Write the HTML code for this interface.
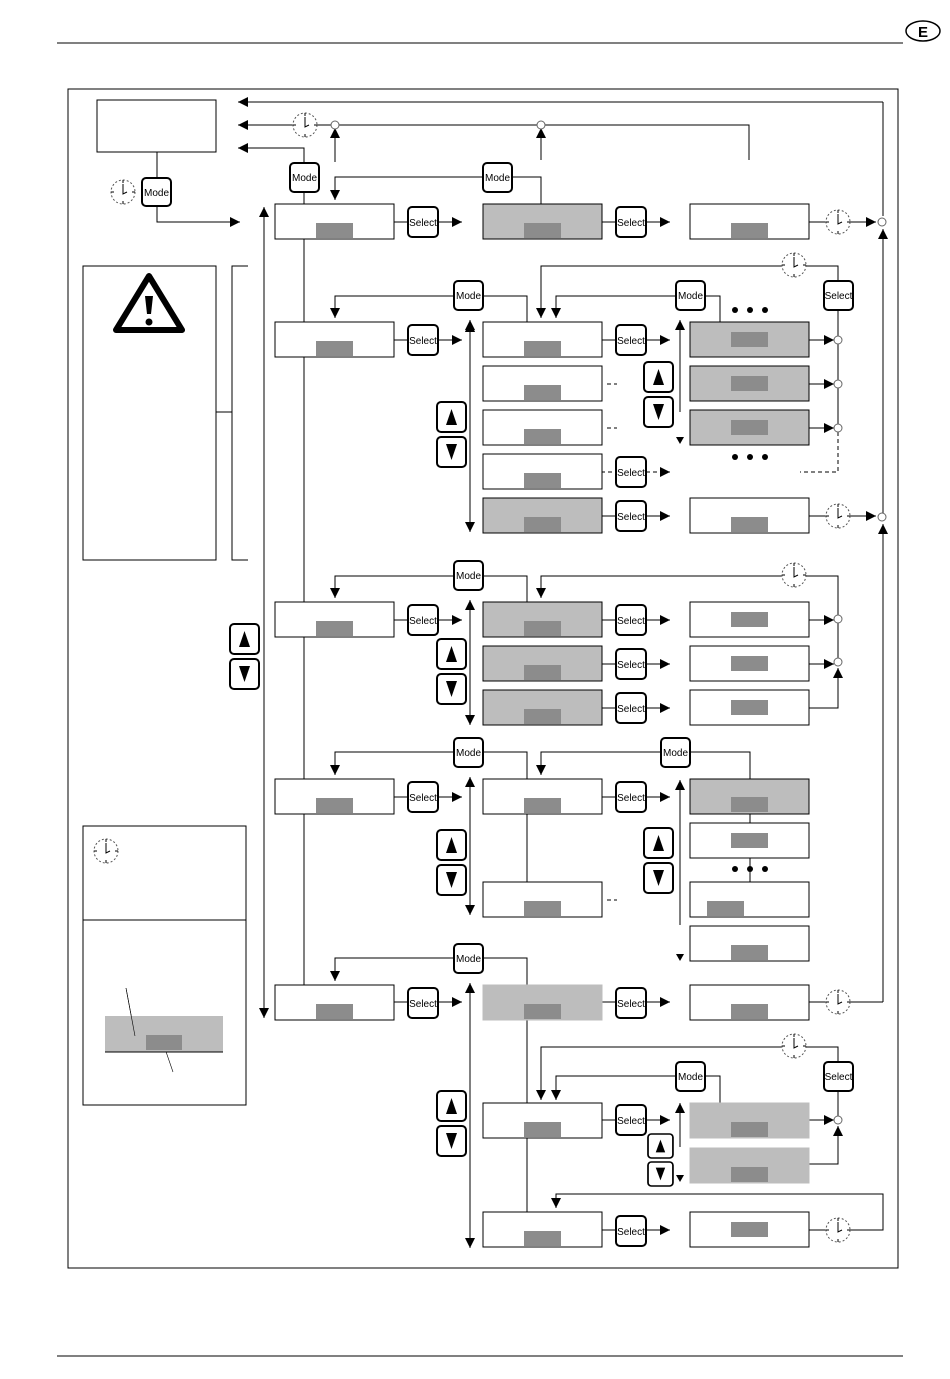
<!DOCTYPE html>
<html><head><meta charset="utf-8"><style>
html,body{margin:0;padding:0;background:#fff}
svg{display:block}
text{font-family:"Liberation Sans",sans-serif}
</style></head><body>
<svg width="950" height="1379" viewBox="0 0 950 1379" xmlns="http://www.w3.org/2000/svg">
<defs>
<marker id="a" markerUnits="userSpaceOnUse" markerWidth="12" markerHeight="12" refX="10" refY="5" orient="auto"><path d="M0,0 L10,5 L0,10 Z" fill="#000"/></marker>
<symbol id="clk" viewBox="-13 -13 26 26" overflow="visible"><circle r="12" fill="#fff" stroke="#555" stroke-width="1" stroke-dasharray="2,2"/><path d="M0,-12V-9M0,12V9M-12,0H-9M12,0H9" stroke="#000"/><path d="M0,-8V2L4,0" fill="none" stroke="#000"/></symbol>
<g id="up"><rect x="0" y="0" width="29" height="30" rx="4" fill="#fff" stroke="#000" stroke-width="2"/><path d="M14.5,7 L20,23 L9,23Z" fill="#000"/></g>
<g id="dn"><rect x="0" y="0" width="29" height="30" rx="4" fill="#fff" stroke="#000" stroke-width="2"/><path d="M14.5,23 L20,7 L9,7Z" fill="#000"/></g>
</defs>
<g fill="none" stroke="#000" stroke-width="1">
<line x1="57" y1="43" x2="903" y2="43"/>
<line x1="57" y1="1356" x2="903" y2="1356"/>
<ellipse cx="923" cy="31" rx="17" ry="10" stroke-width="1.5"/>
<rect x="68" y="89" width="830" height="1179"/>
<rect x="97" y="100" width="119" height="52"/>
<rect x="83" y="266" width="133" height="294"/>
<path d="M248,266H232V560H248M216,412H232"/>
<rect x="83" y="826" width="163" height="279"/>
<line x1="83" y1="920" x2="246" y2="920"/>
<!-- top connectors -->
<path d="M883,102H238" marker-end="url(#a)"/>
<path d="M749,160V125H238" marker-end="url(#a)"/>
<path d="M304,162V148H238" marker-end="url(#a)"/>
<path d="M335,162V128" marker-end="url(#a)"/>
<path d="M541,160V128" marker-end="url(#a)"/>
<path d="M157,152V178M157,206V222H240" marker-end="url(#a)"/>
<path d="M483,177H335V200" marker-end="url(#a)"/>
<path d="M512,177H541V204"/>
<path d="M304,192V204M304,239V985"/>
<path d="M264,1018V207" marker-end="url(#a)"/>
<path d="M264,215V1018" marker-end="url(#a)"/>
<path d="M883,102V216"/>
<path d="M883,1002V524" marker-end="url(#a)"/>
<path d="M883,517V229" marker-end="url(#a)"/>
<!-- row1 -->
<path d="M394,222H408M438,222H462" marker-end="url(#a)"/>
<path d="M601,222H616M646,222H670" marker-end="url(#a)"/>
<path d="M809,222H826M850,222H876" marker-end="url(#a)"/>
<!-- row2 -->
<path d="M454,296H335V318" marker-end="url(#a)"/>
<path d="M483,296H527V322"/>
<path d="M394,340H408M438,340H462" marker-end="url(#a)"/>
<path d="M470,330V322" marker-end="url(#a)"/><path d="M470,322V532" marker-end="url(#a)"/>
<path d="M470,330V322" marker-end="url(#a)"/>
<path d="M470,520V320" marker-end="url(#a)"/>
<path d="M601,340H616M646,340H670" marker-end="url(#a)"/>
<path d="M607,384H617M607,428H617" stroke-dasharray="4,3"/>
<path d="M601,472H616M646,472H670" stroke-dasharray="4,3" marker-end="url(#a)"/>
<path d="M601,516H616M646,516H670" marker-end="url(#a)"/>
<path d="M680,412V320" marker-end="url(#a)"/>
<path d="M676,296H556V318" marker-end="url(#a)"/>
<path d="M705,296H720V322"/>
<path d="M838,281V266H541V318" marker-end="url(#a)"/>
<path d="M838,310V424"/>
<path d="M838,432V472H800" stroke-dasharray="4,3"/>
<path d="M809,340H834" marker-end="url(#a)"/>
<path d="M809,384H834" marker-end="url(#a)"/>
<path d="M809,428H834" marker-end="url(#a)"/>
<path d="M809,516H826M850,516H876" marker-end="url(#a)"/>
<!-- row3 -->
<path d="M454,576H335V598" marker-end="url(#a)"/>
<path d="M483,576H527V602"/>
<path d="M394,620H408M438,620H462" marker-end="url(#a)"/>
<path d="M470,700V600" marker-end="url(#a)"/><path d="M470,610V725" marker-end="url(#a)"/>
<path d="M601,620H616M646,620H670" marker-end="url(#a)"/>
<path d="M601,664H616M646,664H670" marker-end="url(#a)"/>
<path d="M601,708H616M646,708H670" marker-end="url(#a)"/>
<path d="M838,615V576H541V598" marker-end="url(#a)"/>
<path d="M838,623V658"/>
<path d="M809,620H834" marker-end="url(#a)"/>
<path d="M809,664H834" marker-end="url(#a)"/>
<path d="M809,708H838V668" marker-end="url(#a)"/>
<!-- row4 -->
<path d="M454,752H335V775" marker-end="url(#a)"/>
<path d="M483,752H527V779M527,814V882"/>
<path d="M394,797H408M438,797H462" marker-end="url(#a)"/>
<path d="M470,900V777" marker-end="url(#a)"/><path d="M470,790V915" marker-end="url(#a)"/>
<path d="M601,797H616M646,797H670" marker-end="url(#a)"/>
<path d="M607,900H617" stroke-dasharray="4,3"/>
<path d="M661,752H541V775" marker-end="url(#a)"/>
<path d="M690,752H750V779M750,814V823M750,858V882"/>
<path d="M680,925V780" marker-end="url(#a)"/>
<!-- row5 -->
<path d="M454,958H335V981" marker-end="url(#a)"/>
<path d="M483,958H527V985M527,1020V1212"/>
<path d="M394,1002H408M438,1002H462" marker-end="url(#a)"/>
<path d="M470,1200V983" marker-end="url(#a)"/><path d="M470,995V1248" marker-end="url(#a)"/>
<path d="M601,1002H616M646,1002H670" marker-end="url(#a)"/>
<path d="M809,1002H883"/>
<!-- row6 -->
<path d="M838,1062V1047H541V1100" marker-end="url(#a)"/>
<path d="M676,1076H556V1100" marker-end="url(#a)"/>
<path d="M705,1076H720V1103"/>
<path d="M838,1091V1116"/>
<path d="M601,1120H616M646,1120H670" marker-end="url(#a)"/>
<path d="M809,1120H834" marker-end="url(#a)"/>
<path d="M809,1164H838V1126" marker-end="url(#a)"/>
<path d="M680,1147V1103" marker-end="url(#a)"/>
<!-- row7 -->
<path d="M601,1230H616M646,1230H670" marker-end="url(#a)"/>
<path d="M809,1230H883V1194H556V1208" marker-end="url(#a)"/>
<!-- legend lines -->
<path d="M126,988L135,1036M162,1040L173,1072" stroke-width="0.6"/>
</g>
<text x="923" y="37" font-size="15" font-weight="bold" text-anchor="middle">E</text>
<!-- small down triangles -->
<g fill="#000">
<path d="M676,437H684L680,444Z"/>
<path d="M676,954H684L680,961Z"/>
<path d="M676,1175H684L680,1182Z"/>
<circle cx="735" cy="310" r="3"/><circle cx="750" cy="310" r="3"/><circle cx="765" cy="310" r="3"/>
<circle cx="735" cy="457" r="3"/><circle cx="750" cy="457" r="3"/><circle cx="765" cy="457" r="3"/>
<circle cx="735" cy="869" r="3"/><circle cx="750" cy="869" r="3"/><circle cx="765" cy="869" r="3"/>
</g>
<!-- junction circles -->
<g fill="#fff" stroke="#666">
<circle cx="335" cy="125" r="4"/><circle cx="541" cy="125" r="4"/>
<circle cx="882" cy="222" r="4"/><circle cx="882" cy="517" r="4"/>
<circle cx="838" cy="340" r="4"/><circle cx="838" cy="384" r="4"/><circle cx="838" cy="428" r="4"/>
<circle cx="838" cy="619" r="4"/><circle cx="838" cy="662" r="4"/>
<circle cx="838" cy="1120" r="4"/>
</g>
<!-- clocks -->
<use href="#clk" x="292" y="112" width="26" height="26"/>
<use href="#clk" x="110" y="179" width="26" height="26"/>
<use href="#clk" x="825" y="209" width="26" height="26"/>
<use href="#clk" x="781" y="252" width="26" height="26"/>
<use href="#clk" x="825" y="503" width="26" height="26"/>
<use href="#clk" x="781" y="562" width="26" height="26"/>
<use href="#clk" x="825" y="989" width="26" height="26"/>
<use href="#clk" x="781" y="1033" width="26" height="26"/>
<use href="#clk" x="825" y="1217" width="26" height="26"/>
<use href="#clk" x="93" y="838" width="26" height="26"/>
<!-- display boxes -->
<g stroke="#000" stroke-width="1">
<rect x="275" y="204" width="119" height="35" fill="#fff"/>
<rect x="483" y="204" width="119" height="35" fill="#bdbdbd"/>
<rect x="690" y="204" width="119" height="35" fill="#fff"/>
<rect x="275" y="322" width="119" height="35" fill="#fff"/>
<rect x="483" y="322" width="119" height="35" fill="#fff"/>
<rect x="483" y="366" width="119" height="35" fill="#fff"/>
<rect x="483" y="410" width="119" height="35" fill="#fff"/>
<rect x="483" y="454" width="119" height="35" fill="#fff"/>
<rect x="483" y="498" width="119" height="35" fill="#bdbdbd"/>
<rect x="690" y="322" width="119" height="35" fill="#bdbdbd"/>
<rect x="690" y="366" width="119" height="35" fill="#bdbdbd"/>
<rect x="690" y="410" width="119" height="35" fill="#bdbdbd"/>
<rect x="690" y="498" width="119" height="35" fill="#fff"/>
<rect x="275" y="602" width="119" height="35" fill="#fff"/>
<rect x="483" y="602" width="119" height="35" fill="#bdbdbd"/>
<rect x="483" y="646" width="119" height="35" fill="#bdbdbd"/>
<rect x="483" y="690" width="119" height="35" fill="#bdbdbd"/>
<rect x="690" y="602" width="119" height="35" fill="#fff"/>
<rect x="690" y="646" width="119" height="35" fill="#fff"/>
<rect x="690" y="690" width="119" height="35" fill="#fff"/>
<rect x="275" y="779" width="119" height="35" fill="#fff"/>
<rect x="483" y="779" width="119" height="35" fill="#fff"/>
<rect x="483" y="882" width="119" height="35" fill="#fff"/>
<rect x="690" y="779" width="119" height="35" fill="#bdbdbd"/>
<rect x="690" y="823" width="119" height="35" fill="#fff"/>
<rect x="690" y="882" width="119" height="35" fill="#fff"/>
<rect x="690" y="926" width="119" height="35" fill="#fff"/>
<rect x="275" y="985" width="119" height="35" fill="#fff"/>
<rect x="483" y="985" width="119" height="35" fill="#bdbdbd" stroke="#bdbdbd"/>
<rect x="690" y="985" width="119" height="35" fill="#fff"/>
<rect x="483" y="1103" width="119" height="35" fill="#fff"/>
<rect x="690" y="1103" width="119" height="35" fill="#bdbdbd" stroke="#bdbdbd"/>
<rect x="690" y="1148" width="119" height="35" fill="#bdbdbd" stroke="#bdbdbd"/>
<rect x="483" y="1212" width="119" height="35" fill="#fff"/>
<rect x="690" y="1212" width="119" height="35" fill="#fff"/>
</g>
<g fill="#8c8c8c">
<rect x="316" y="223" width="37" height="15"/><rect x="524" y="223" width="37" height="15"/><rect x="731" y="223" width="37" height="15"/>
<rect x="316" y="341" width="37" height="15"/>
<rect x="524" y="341" width="37" height="15"/><rect x="524" y="385" width="37" height="15"/><rect x="524" y="429" width="37" height="15"/><rect x="524" y="473" width="37" height="15"/><rect x="524" y="517" width="37" height="15"/>
<rect x="731" y="332" width="37" height="15"/><rect x="731" y="376" width="37" height="15"/><rect x="731" y="420" width="37" height="15"/>
<rect x="731" y="517" width="37" height="15"/>
<rect x="316" y="621" width="37" height="15"/>
<rect x="524" y="621" width="37" height="15"/><rect x="524" y="665" width="37" height="15"/><rect x="524" y="709" width="37" height="15"/>
<rect x="731" y="612" width="37" height="15"/><rect x="731" y="656" width="37" height="15"/><rect x="731" y="700" width="37" height="15"/>
<rect x="316" y="798" width="37" height="15"/><rect x="524" y="798" width="37" height="15"/><rect x="524" y="901" width="37" height="15"/>
<rect x="731" y="797" width="37" height="15"/><rect x="731" y="833" width="37" height="15"/><rect x="707" y="901" width="37" height="15"/><rect x="731" y="945" width="37" height="15"/>
<rect x="316" y="1004" width="37" height="15"/><rect x="524" y="1004" width="37" height="15"/><rect x="731" y="1004" width="37" height="15"/>
<rect x="524" y="1122" width="37" height="15"/><rect x="731" y="1122" width="37" height="15"/><rect x="731" y="1167" width="37" height="15"/>
<rect x="524" y="1231" width="37" height="15"/><rect x="731" y="1222" width="37" height="15"/>
</g>
<!-- legend display -->
<rect x="105" y="1016" width="118" height="36" fill="#bdbdbd"/>
<line x1="105" y1="1052" x2="223" y2="1052" stroke="#000"/>
<rect x="146" y="1035" width="36" height="15" fill="#8c8c8c"/>
<line x1="126" y1="988" x2="135" y2="1036" stroke="#000" stroke-width="0.6"/>
<!-- warning sign -->
<path d="M149,276 L182,330 L116,330 Z" fill="#fff" stroke="#000" stroke-width="6" stroke-linejoin="round"/>
<path d="M145,296 h8 l-2,18 h-4 z" fill="#000"/><circle cx="149" cy="322" r="3.5" fill="#000"/>
<!-- up/down buttons -->
<use href="#up" x="230" y="624"/><use href="#dn" x="230" y="659"/>
<use href="#up" x="437" y="402"/><use href="#dn" x="437" y="437"/>
<use href="#up" x="644" y="362"/><use href="#dn" x="644" y="397"/>
<use href="#up" x="437" y="639"/><use href="#dn" x="437" y="674"/>
<use href="#up" x="437" y="830"/><use href="#dn" x="437" y="865"/>
<use href="#up" x="644" y="828"/><use href="#dn" x="644" y="863"/>
<use href="#up" x="437" y="1091"/><use href="#dn" x="437" y="1126"/>
<g transform="translate(648,1134) scale(0.86,0.8)"><use href="#up"/></g>
<g transform="translate(648,1162) scale(0.86,0.8)"><use href="#dn"/></g>
<!-- Mode / Select buttons -->
<g font-size="10" text-anchor="middle">
<g fill="#fff" stroke="#000" stroke-width="2">
<rect x="142" y="178" width="29" height="28" rx="4"/>
<rect x="290" y="163" width="29" height="29" rx="4"/>
<rect x="483" y="163" width="29" height="29" rx="4"/>
<rect x="454" y="281" width="29" height="29" rx="4"/>
<rect x="676" y="281" width="29" height="29" rx="4"/>
<rect x="824" y="281" width="29" height="29" rx="4"/>
<rect x="454" y="561" width="29" height="29" rx="4"/>
<rect x="454" y="738" width="29" height="29" rx="4"/>
<rect x="661" y="738" width="29" height="29" rx="4"/>
<rect x="454" y="944" width="29" height="29" rx="4"/>
<rect x="676" y="1062" width="29" height="29" rx="4"/>
<rect x="824" y="1062" width="29" height="29" rx="4"/>
<rect x="408" y="207" width="30" height="30" rx="4"/>
<rect x="616" y="207" width="30" height="30" rx="4"/>
<rect x="408" y="325" width="30" height="30" rx="4"/>
<rect x="616" y="325" width="30" height="30" rx="4"/>
<rect x="616" y="457" width="30" height="30" rx="4"/>
<rect x="616" y="501" width="30" height="30" rx="4"/>
<rect x="408" y="605" width="30" height="30" rx="4"/>
<rect x="616" y="605" width="30" height="30" rx="4"/>
<rect x="616" y="649" width="30" height="30" rx="4"/>
<rect x="616" y="693" width="30" height="30" rx="4"/>
<rect x="408" y="782" width="30" height="30" rx="4"/>
<rect x="616" y="782" width="30" height="30" rx="4"/>
<rect x="408" y="988" width="30" height="30" rx="4"/>
<rect x="616" y="988" width="30" height="30" rx="4"/>
<rect x="616" y="1105" width="30" height="30" rx="4"/>
<rect x="616" y="1216" width="30" height="30" rx="4"/>
</g>
<text x="156.5" y="196">Mode</text>
<text x="304.5" y="181">Mode</text>
<text x="497.5" y="181">Mode</text>
<text x="468.5" y="299">Mode</text>
<text x="690.5" y="299">Mode</text>
<text x="838.5" y="299">Select</text>
<text x="468.5" y="579">Mode</text>
<text x="468.5" y="756">Mode</text>
<text x="675.5" y="756">Mode</text>
<text x="468.5" y="962">Mode</text>
<text x="690.5" y="1080">Mode</text>
<text x="838.5" y="1080">Select</text>
<text x="423" y="226">Select</text>
<text x="631" y="226">Select</text>
<text x="423" y="344">Select</text>
<text x="631" y="344">Select</text>
<text x="631" y="476">Select</text>
<text x="631" y="520">Select</text>
<text x="423" y="624">Select</text>
<text x="631" y="624">Select</text>
<text x="631" y="668">Select</text>
<text x="631" y="712">Select</text>
<text x="423" y="801">Select</text>
<text x="631" y="801">Select</text>
<text x="423" y="1007">Select</text>
<text x="631" y="1007">Select</text>
<text x="631" y="1124">Select</text>
<text x="631" y="1235">Select</text>
</g>
</svg>
</body></html>
